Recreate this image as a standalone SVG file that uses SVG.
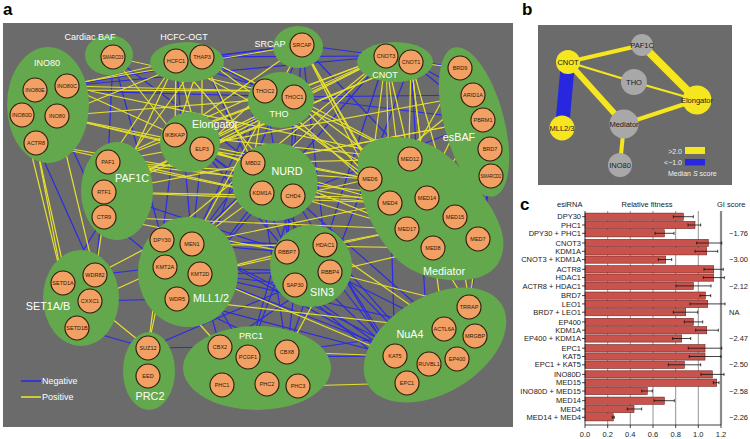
<svg xmlns="http://www.w3.org/2000/svg" width="750" height="439" viewBox="0 0 750 439">
<style>
text{font-family:"Liberation Sans",Arial,sans-serif}
.bg{fill:#6b6b6b}
.cx{fill:#63a84c}
.nd{fill:#f2a064;stroke:#2e1c0c;stroke-width:1.1}
.nt{font-size:5.5px;fill:#2b1a0a;text-anchor:middle}
.gl{fill:#fff;text-anchor:middle}
.s{font-size:9px}
.l{font-size:10.8px}
.neg line{stroke:#2b2be6;stroke-width:1.2}
.pos line{stroke:#e6e12e;stroke-width:1.2}
.pl{font-weight:bold;font-size:17px;fill:#000}
.bn{stroke:none}
.bt{font-size:7.5px;fill:#1a1a1a;text-anchor:middle}
.lg{font-size:7px;fill:#f0f0f0}
.ct{font-size:7.5px;fill:#1a1a1a}
.yl{text-anchor:end}
.bar{fill:#c9534c;stroke:#6e2420;stroke-width:0.6}
.grid{stroke:#4a4a4a;stroke-width:0.6}
.err{stroke:#111;stroke-width:0.8;fill:none}
</style>

<text class="pl" x="3" y="15">a</text>
<rect class="bg" x="3" y="23" width="510" height="404"/>

<g id="connectors">
<g class="neg">
<line x1="202" y1="57" x2="302" y2="45"/><line x1="176" y1="61" x2="302" y2="45"/>
<line x1="202" y1="57" x2="265" y2="91"/><line x1="176" y1="61" x2="294" y2="97"/>
<line x1="202" y1="57" x2="386" y2="56"/><line x1="113" y1="57" x2="294" y2="97"/>
<line x1="113" y1="57" x2="108" y2="162"/><line x1="113" y1="57" x2="162" y2="240"/>
<line x1="113" y1="57" x2="253" y2="163"/><line x1="202" y1="57" x2="262" y2="193"/>
<line x1="176" y1="61" x2="192" y2="244"/><line x1="67" y1="86" x2="386" y2="56"/>
<line x1="67" y1="86" x2="302" y2="45"/><line x1="35" y1="90" x2="294" y2="97"/>
<line x1="302" y1="45" x2="253" y2="163"/><line x1="302" y1="45" x2="287" y2="252"/>
<line x1="302" y1="45" x2="325" y2="245"/><line x1="302" y1="45" x2="386" y2="56"/>
<line x1="302" y1="45" x2="410" y2="159"/><line x1="294" y1="97" x2="386" y2="56"/>
<line x1="294" y1="97" x2="287" y2="252"/><line x1="265" y1="91" x2="295" y2="285"/>
<line x1="265" y1="91" x2="192" y2="244"/><line x1="265" y1="91" x2="200" y2="274"/>
<line x1="294" y1="97" x2="473" y2="95"/><line x1="294" y1="97" x2="483" y2="120"/>
<line x1="411" y1="62" x2="473" y2="95"/><line x1="386" y1="56" x2="460" y2="68"/>
<line x1="411" y1="62" x2="483" y2="120"/><line x1="386" y1="56" x2="165" y2="267"/>
<line x1="386" y1="56" x2="200" y2="274"/><line x1="386" y1="56" x2="325" y2="245"/>
<line x1="411" y1="62" x2="330" y2="272"/><line x1="386" y1="56" x2="395" y2="356"/>
<line x1="411" y1="62" x2="429" y2="364"/><line x1="175" y1="135" x2="162" y2="240"/>
<line x1="202" y1="149" x2="192" y2="244"/><line x1="202" y1="149" x2="287" y2="252"/>
<line x1="202" y1="149" x2="325" y2="245"/><line x1="202" y1="149" x2="262" y2="193"/>
<line x1="104" y1="217" x2="63" y2="283"/><line x1="104" y1="192" x2="95" y2="275"/>
<line x1="104" y1="217" x2="165" y2="267"/><line x1="104" y1="192" x2="287" y2="252"/>
<line x1="262" y1="193" x2="287" y2="252"/><line x1="293" y1="196" x2="295" y2="285"/>
<line x1="262" y1="193" x2="200" y2="274"/><line x1="253" y1="163" x2="192" y2="244"/>
<line x1="262" y1="193" x2="287" y2="352"/><line x1="293" y1="196" x2="248" y2="357"/>
<line x1="293" y1="196" x2="395" y2="356"/><line x1="293" y1="196" x2="444" y2="329"/>
<line x1="200" y1="274" x2="295" y2="285"/><line x1="192" y1="244" x2="287" y2="252"/>
<line x1="200" y1="274" x2="248" y2="357"/><line x1="177" y1="299" x2="287" y2="352"/>
<line x1="200" y1="274" x2="220" y2="347"/><line x1="200" y1="274" x2="429" y2="364"/>
<line x1="192" y1="244" x2="429" y2="364"/><line x1="177" y1="299" x2="395" y2="356"/>
<line x1="165" y1="267" x2="95" y2="275"/><line x1="177" y1="299" x2="90" y2="301"/>
<line x1="77" y1="328" x2="148" y2="348"/><line x1="148" y1="348" x2="220" y2="347"/>
<line x1="148" y1="348" x2="295" y2="285"/><line x1="330" y1="272" x2="395" y2="356"/>
<line x1="295" y1="285" x2="395" y2="356"/><line x1="330" y1="272" x2="444" y2="329"/>
<line x1="325" y1="245" x2="429" y2="364"/><line x1="295" y1="285" x2="407" y2="383"/>
<line x1="295" y1="285" x2="287" y2="352"/><line x1="287" y1="252" x2="248" y2="357"/>
<line x1="287" y1="352" x2="444" y2="329"/><line x1="248" y1="357" x2="395" y2="356"/>
<line x1="200" y1="274" x2="330" y2="272"/><line x1="200" y1="274" x2="444" y2="329"/>
<line x1="478" y1="239" x2="491" y2="176"/><line x1="455" y1="217" x2="490" y2="149"/>
<line x1="491" y1="176" x2="469" y2="307"/><line x1="483" y1="120" x2="293" y2="196"/>
<line x1="57" y1="116" x2="104" y2="217"/><line x1="36" y1="143" x2="95" y2="275"/>
<line x1="287" y1="252" x2="395" y2="356"/><line x1="192" y1="244" x2="395" y2="356"/>
<line x1="325" y1="245" x2="407" y2="383"/><line x1="262" y1="193" x2="429" y2="364"/>
<line x1="165" y1="267" x2="330" y2="272"/><line x1="162" y1="240" x2="325" y2="245"/>
<line x1="287" y1="352" x2="325" y2="245"/><line x1="220" y1="347" x2="330" y2="272"/>
</g>
<g class="pos">
<line x1="176" y1="61" x2="175" y2="135"/><line x1="176" y1="61" x2="202" y2="149"/>
<line x1="202" y1="57" x2="175" y2="135"/><line x1="202" y1="57" x2="202" y2="149"/>
<line x1="176" y1="61" x2="108" y2="162"/><line x1="202" y1="57" x2="104" y2="192"/>
<line x1="176" y1="61" x2="104" y2="217"/><line x1="202" y1="57" x2="253" y2="163"/>
<line x1="176" y1="61" x2="293" y2="196"/><line x1="202" y1="57" x2="370" y2="179"/>
<line x1="176" y1="61" x2="427" y2="198"/><line x1="202" y1="57" x2="410" y2="159"/>
<line x1="67" y1="86" x2="176" y2="61"/><line x1="57" y1="116" x2="202" y2="57"/>
<line x1="67" y1="86" x2="265" y2="91"/><line x1="57" y1="116" x2="294" y2="97"/>
<line x1="35" y1="90" x2="265" y2="91"/><line x1="35" y1="90" x2="302" y2="45"/>
<line x1="57" y1="116" x2="370" y2="179"/><line x1="67" y1="86" x2="410" y2="159"/>
<line x1="36" y1="143" x2="390" y2="203"/><line x1="57" y1="116" x2="253" y2="163"/>
<line x1="36" y1="143" x2="262" y2="193"/><line x1="36" y1="143" x2="63" y2="283"/>
<line x1="57" y1="116" x2="95" y2="275"/><line x1="22" y1="115" x2="63" y2="283"/>
<line x1="36" y1="143" x2="77" y2="328"/><line x1="67" y1="86" x2="175" y2="135"/>
<line x1="57" y1="116" x2="202" y2="149"/><line x1="113" y1="57" x2="175" y2="135"/>
<line x1="113" y1="57" x2="265" y2="91"/><line x1="386" y1="56" x2="410" y2="159"/>
<line x1="386" y1="56" x2="370" y2="179"/><line x1="386" y1="56" x2="390" y2="203"/>
<line x1="411" y1="62" x2="427" y2="198"/><line x1="411" y1="62" x2="407" y2="229"/>
<line x1="411" y1="62" x2="433" y2="248"/><line x1="386" y1="56" x2="407" y2="229"/>
<line x1="411" y1="62" x2="455" y2="217"/><line x1="386" y1="56" x2="108" y2="162"/>
<line x1="411" y1="62" x2="104" y2="192"/><line x1="386" y1="56" x2="104" y2="192"/>
<line x1="386" y1="56" x2="175" y2="135"/><line x1="411" y1="62" x2="202" y2="149"/>
<line x1="386" y1="56" x2="202" y2="149"/><line x1="386" y1="56" x2="294" y2="97"/>
<line x1="411" y1="62" x2="460" y2="68"/><line x1="386" y1="56" x2="162" y2="240"/>
<line x1="386" y1="56" x2="192" y2="244"/><line x1="302" y1="45" x2="370" y2="179"/>
<line x1="302" y1="45" x2="390" y2="203"/><line x1="302" y1="45" x2="407" y2="229"/>
<line x1="302" y1="45" x2="175" y2="135"/><line x1="302" y1="45" x2="192" y2="244"/>
<line x1="294" y1="97" x2="370" y2="179"/><line x1="294" y1="97" x2="427" y2="198"/>
<line x1="265" y1="91" x2="390" y2="203"/><line x1="265" y1="91" x2="253" y2="163"/>
<line x1="265" y1="91" x2="202" y2="149"/><line x1="265" y1="91" x2="108" y2="162"/>
<line x1="294" y1="97" x2="104" y2="192"/><line x1="460" y1="68" x2="410" y2="159"/>
<line x1="473" y1="95" x2="370" y2="179"/><line x1="483" y1="120" x2="427" y2="198"/>
<line x1="473" y1="95" x2="407" y2="229"/><line x1="473" y1="95" x2="108" y2="162"/>
<line x1="483" y1="120" x2="104" y2="192"/><line x1="483" y1="120" x2="253" y2="163"/>
<line x1="202" y1="149" x2="370" y2="179"/><line x1="202" y1="149" x2="390" y2="203"/>
<line x1="175" y1="135" x2="407" y2="229"/><line x1="202" y1="149" x2="253" y2="163"/>
<line x1="108" y1="162" x2="370" y2="179"/><line x1="104" y1="192" x2="390" y2="203"/>
<line x1="108" y1="162" x2="427" y2="198"/><line x1="104" y1="217" x2="407" y2="229"/>
<line x1="108" y1="162" x2="262" y2="193"/><line x1="104" y1="192" x2="293" y2="196"/>
<line x1="104" y1="217" x2="287" y2="252"/><line x1="104" y1="217" x2="95" y2="275"/>
<line x1="293" y1="196" x2="370" y2="179"/><line x1="262" y1="193" x2="390" y2="203"/>
<line x1="293" y1="196" x2="407" y2="229"/><line x1="262" y1="193" x2="192" y2="244"/>
<line x1="192" y1="244" x2="390" y2="203"/><line x1="200" y1="274" x2="407" y2="229"/>
<line x1="192" y1="244" x2="433" y2="248"/><line x1="200" y1="274" x2="287" y2="252"/>
<line x1="200" y1="274" x2="395" y2="356"/><line x1="177" y1="299" x2="444" y2="329"/>
<line x1="162" y1="240" x2="148" y2="348"/><line x1="165" y1="267" x2="148" y2="348"/>
<line x1="90" y1="301" x2="148" y2="348"/><line x1="95" y1="275" x2="162" y2="240"/>
<line x1="90" y1="301" x2="165" y2="267"/><line x1="330" y1="272" x2="469" y2="307"/>
<line x1="325" y1="245" x2="444" y2="329"/><line x1="325" y1="245" x2="407" y2="229"/>
<line x1="330" y1="272" x2="433" y2="248"/><line x1="298" y1="386" x2="407" y2="383"/>
<line x1="287" y1="352" x2="395" y2="356"/><line x1="287" y1="352" x2="330" y2="272"/>
<line x1="478" y1="239" x2="469" y2="307"/><line x1="433" y1="248" x2="469" y2="307"/>
<line x1="455" y1="217" x2="475" y2="336"/><line x1="433" y1="248" x2="444" y2="329"/>
<line x1="177" y1="299" x2="220" y2="347"/><line x1="253" y1="163" x2="410" y2="159"/>
<line x1="175" y1="135" x2="410" y2="159"/><line x1="293" y1="196" x2="427" y2="198"/>
<line x1="294" y1="97" x2="410" y2="159"/>
</g>
</g>

<g id="INO80">
<ellipse class="cx" cx="48" cy="105" rx="41" ry="58"/>
<text class="gl s" x="47" y="66">INO80</text>
<g id="n-INO80E"><circle class="nd" cx="35" cy="90" r="12"/><text class="nt" x="35" y="92">INO80E</text></g>
<g id="n-INO80C"><circle class="nd" cx="67" cy="86" r="12"/><text class="nt" x="67" y="88">INO80C</text></g>
<g id="n-INO80D"><circle class="nd" cx="22" cy="115" r="12"/><text class="nt" x="22" y="117">INO80D</text></g>
<g id="n-INO80"><circle class="nd" cx="57" cy="116" r="12"/><text class="nt" x="57" y="118">INO80</text></g>
<g id="n-ACTR8"><circle class="nd" cx="36" cy="143" r="12"/><text class="nt" x="36" y="145">ACTR8</text></g>
</g>

<g id="CardiacBAF">
<ellipse class="cx" cx="109" cy="55" rx="24" ry="20"/>
<text class="gl s" x="90" y="40">Cardiac BAF</text>
<g id="n-SMARCD3"><circle class="nd" cx="113" cy="57" r="12"/><text class="nt" x="113" y="59" textLength="21" lengthAdjust="spacingAndGlyphs">SMARCD3</text></g>
</g>

<g id="HCFC-OGT">
<ellipse class="cx" cx="187" cy="62" rx="37" ry="20"/>
<text class="gl s" x="184" y="40">HCFC-OGT</text>
<g id="n-HCFC1"><circle class="nd" cx="176" cy="61" r="12"/><text class="nt" x="176" y="63">HCFC1</text></g>
<g id="n-THAP3"><circle class="nd" cx="202" cy="57" r="12"/><text class="nt" x="202" y="59">THAP3</text></g>
</g>

<g id="SRCAP">
<ellipse class="cx" cx="298" cy="47" rx="25" ry="21"/>
<text class="gl s" x="270" y="47">SRCAP</text>
<g id="n-SRCAP"><circle class="nd" cx="302" cy="45" r="12"/><text class="nt" x="302" y="47">SRCAP</text></g>
</g>

<g id="CNOT">
<ellipse class="cx" cx="395" cy="62" rx="38" ry="20"/>
<text class="gl s" x="385" y="78">CNOT</text>
<g id="n-CNOT3"><circle class="nd" cx="386" cy="56" r="12"/><text class="nt" x="386" y="58">CNOT3</text></g>
<g id="n-CNOT1"><circle class="nd" cx="411" cy="62" r="12"/><text class="nt" x="411" y="64">CNOT1</text></g>
</g>

<g id="THO">
<ellipse class="cx" cx="281" cy="100" rx="33" ry="28"/>
<text class="gl s" x="279" y="117">THO</text>
<g id="n-THOC2"><circle class="nd" cx="265" cy="91" r="12"/><text class="nt" x="265" y="93">THOC2</text></g>
<g id="n-THOC1"><circle class="nd" cx="294" cy="97" r="12"/><text class="nt" x="294" y="99">THOC1</text></g>
</g>

<g id="esBAF">
<ellipse class="cx" cx="474" cy="122" rx="30" ry="77" transform="rotate(-15 474 122)"/>
<text class="gl l" x="459" y="141">esBAF</text>
<g id="n-BRD9"><circle class="nd" cx="460" cy="68" r="12"/><text class="nt" x="460" y="70">BRD9</text></g>
<g id="n-ARID1A"><circle class="nd" cx="473" cy="95" r="12"/><text class="nt" x="473" y="97">ARID1A</text></g>
<g id="n-PBRM1"><circle class="nd" cx="483" cy="120" r="12"/><text class="nt" x="483" y="122">PBRM1</text></g>
<g id="n-BRD7"><circle class="nd" cx="490" cy="149" r="12"/><text class="nt" x="490" y="151">BRD7</text></g>
<g id="n-SMARCD2"><circle class="nd" cx="491" cy="176" r="12"/><text class="nt" x="491" y="178" textLength="21" lengthAdjust="spacingAndGlyphs">SMARCD2</text></g>
</g>

<g id="Elongator">
<ellipse class="cx" cx="190" cy="142" rx="30" ry="30"/>
<text class="l" x="192" y="128" fill="#fff">Elongator</text>
<g id="n-IKBKAP"><circle class="nd" cx="175" cy="135" r="12"/><text class="nt" x="175" y="137">IKBKAP</text></g>
<g id="n-ELP3"><circle class="nd" cx="202" cy="149" r="12"/><text class="nt" x="202" y="151">ELP3</text></g>
</g>

<g id="PAF1C">
<ellipse class="cx" cx="117" cy="191" rx="36" ry="49"/>
<text class="gl l" x="132" y="182">PAF1C</text>
<g id="n-PAF1"><circle class="nd" cx="108" cy="162" r="12"/><text class="nt" x="108" y="164">PAF1</text></g>
<g id="n-RTF1"><circle class="nd" cx="104" cy="192" r="12"/><text class="nt" x="104" y="194">RTF1</text></g>
<g id="n-CTR9"><circle class="nd" cx="104" cy="217" r="12"/><text class="nt" x="104" y="219">CTR9</text></g>
</g>

<g id="NURD">
<ellipse class="cx" cx="275" cy="182" rx="43" ry="39"/>
<text class="gl l" x="287" y="175">NURD</text>
<g id="n-MBD2"><circle class="nd" cx="253" cy="163" r="12"/><text class="nt" x="253" y="165">MBD2</text></g>
<g id="n-KDM1A"><circle class="nd" cx="262" cy="193" r="12"/><text class="nt" x="262" y="195">KDM1A</text></g>
<g id="n-CHD4"><circle class="nd" cx="293" cy="196" r="12"/><text class="nt" x="293" y="198">CHD4</text></g>
</g>

<g id="Mediator">
<path class="cx" d="M358,163 C358,145 375,137 395,137 C415,137 440,145 460,168 C480,190 500,215 503,238 C506,262 492,278 465,280 C440,282 415,275 400,262 C385,248 370,225 363,200 C359,188 358,176 358,163 Z"/>
<text class="gl l" x="444" y="275">Mediator</text>
<g id="n-MED12"><circle class="nd" cx="410" cy="159" r="12"/><text class="nt" x="410" y="161">MED12</text></g>
<g id="n-MED6"><circle class="nd" cx="370" cy="179" r="12"/><text class="nt" x="370" y="181">MED6</text></g>
<g id="n-MED4"><circle class="nd" cx="390" cy="203" r="12"/><text class="nt" x="390" y="205">MED4</text></g>
<g id="n-MED14"><circle class="nd" cx="427" cy="198" r="12"/><text class="nt" x="427" y="200">MED14</text></g>
<g id="n-MED15"><circle class="nd" cx="455" cy="217" r="12"/><text class="nt" x="455" y="219">MED15</text></g>
<g id="n-MED17"><circle class="nd" cx="407" cy="229" r="12"/><text class="nt" x="407" y="231">MED17</text></g>
<g id="n-MED7"><circle class="nd" cx="478" cy="239" r="12"/><text class="nt" x="478" y="241">MED7</text></g>
<g id="n-MED8"><circle class="nd" cx="433" cy="248" r="12"/><text class="nt" x="433" y="250">MED8</text></g>
</g>

<g id="MLL1-2">
<ellipse class="cx" cx="188" cy="272" rx="50" ry="55"/>
<text class="l" x="193" y="302" fill="#fff">MLL1/2</text>
<g id="n-DPY30"><circle class="nd" cx="162" cy="240" r="12"/><text class="nt" x="162" y="242">DPY30</text></g>
<g id="n-MEN1"><circle class="nd" cx="192" cy="244" r="12"/><text class="nt" x="192" y="246">MEN1</text></g>
<g id="n-KMT2A"><circle class="nd" cx="165" cy="267" r="12"/><text class="nt" x="165" y="269">KMT2A</text></g>
<g id="n-KMT2D"><circle class="nd" cx="200" cy="274" r="12"/><text class="nt" x="200" y="276">KMT2D</text></g>
<g id="n-WDR5"><circle class="nd" cx="177" cy="299" r="12"/><text class="nt" x="177" y="301">WDR5</text></g>
</g>

<g id="SIN3">
<ellipse class="cx" cx="311" cy="266" rx="41" ry="41"/>
<text class="gl l" x="322" y="296">SIN3</text>
<g id="n-RBBP7"><circle class="nd" cx="287" cy="252" r="12"/><text class="nt" x="287" y="254">RBBP7</text></g>
<g id="n-HDAC1"><circle class="nd" cx="325" cy="245" r="12"/><text class="nt" x="325" y="247">HDAC1</text></g>
<g id="n-RBBP4"><circle class="nd" cx="330" cy="272" r="12"/><text class="nt" x="330" y="274">RBBP4</text></g>
<g id="n-SAP30"><circle class="nd" cx="295" cy="285" r="12"/><text class="nt" x="295" y="287">SAP30</text></g>
</g>

<g id="SET1A-B">
<ellipse class="cx" cx="81" cy="298" rx="38" ry="48"/>
<text class="gl l" x="48" y="310">SET1A/B</text>
<g id="n-SETD1A"><circle class="nd" cx="63" cy="283" r="12"/><text class="nt" x="63" y="285">SETD1A</text></g>
<g id="n-WDR82"><circle class="nd" cx="95" cy="275" r="12"/><text class="nt" x="95" y="277">WDR82</text></g>
<g id="n-CXXC1"><circle class="nd" cx="90" cy="301" r="12"/><text class="nt" x="90" y="303">CXXC1</text></g>
<g id="n-SETD1B"><circle class="nd" cx="77" cy="328" r="12"/><text class="nt" x="77" y="330">SETD1B</text></g>
</g>

<g id="PRC2">
<ellipse class="cx" cx="149" cy="371" rx="26" ry="39"/>
<text class="gl l" x="150" y="400">PRC2</text>
<g id="n-SUZ12"><circle class="nd" cx="148" cy="348" r="12"/><text class="nt" x="148" y="350">SUZ12</text></g>
<g id="n-EED"><circle class="nd" cx="148" cy="376" r="12"/><text class="nt" x="148" y="378">EED</text></g>
</g>

<g id="PRC1">
<ellipse class="cx" cx="257" cy="368" rx="74" ry="42"/>
<text class="gl s" x="251" y="339">PRC1</text>
<g id="n-CBX2"><circle class="nd" cx="220" cy="347" r="12"/><text class="nt" x="220" y="349">CBX2</text></g>
<g id="n-PCGF1"><circle class="nd" cx="248" cy="357" r="12"/><text class="nt" x="248" y="359">PCGF1</text></g>
<g id="n-CBX8"><circle class="nd" cx="287" cy="352" r="12"/><text class="nt" x="287" y="354">CBX8</text></g>
<g id="n-PHC1"><circle class="nd" cx="222" cy="385" r="12"/><text class="nt" x="222" y="387">PHC1</text></g>
<g id="n-PHC2"><circle class="nd" cx="267" cy="384" r="12"/><text class="nt" x="267" y="386">PHC2</text></g>
<g id="n-PHC3"><circle class="nd" cx="298" cy="386" r="12"/><text class="nt" x="298" y="388">PHC3</text></g>
</g>

<g id="NuA4">
<ellipse class="cx" cx="435" cy="345" rx="78" ry="48" transform="rotate(-31 435 345)"/>
<text class="gl l" x="410" y="338">NuA4</text>
<g id="n-TRRAP"><circle class="nd" cx="469" cy="307" r="12"/><text class="nt" x="469" y="309">TRRAP</text></g>
<g id="n-ACTL6A"><circle class="nd" cx="444" cy="329" r="12"/><text class="nt" x="444" y="331">ACTL6A</text></g>
<g id="n-MRGBP"><circle class="nd" cx="475" cy="336" r="12"/><text class="nt" x="475" y="338">MRGBP</text></g>
<g id="n-KAT5"><circle class="nd" cx="395" cy="356" r="12"/><text class="nt" x="395" y="358">KAT5</text></g>
<g id="n-RUVBL1"><circle class="nd" cx="429" cy="364" r="12"/><text class="nt" x="429" y="366">RUVBL1</text></g>
<g id="n-EP400"><circle class="nd" cx="457" cy="359" r="12"/><text class="nt" x="457" y="361">EP400</text></g>
<g id="n-EPC1"><circle class="nd" cx="407" cy="383" r="12"/><text class="nt" x="407" y="385">EPC1</text></g>
</g>

<g id="legend-a">
<line x1="21" y1="381" x2="41" y2="381" stroke="#2b2be6" stroke-width="1.6"/>
<text x="42" y="384" font-size="9" fill="#fff">Negative</text>
<line x1="21" y1="397" x2="41" y2="397" stroke="#e6e12e" stroke-width="1.6"/>
<text x="42" y="400" font-size="9" fill="#fff">Positive</text>
</g>

<!-- Panel b -->
<text class="pl" x="522" y="15">b</text>
<rect class="bg" x="538" y="25" width="194" height="160"/>
<g id="b-connectors" stroke-linecap="butt">
<line x1="568" y1="62" x2="562" y2="128" stroke="#2727e0" stroke-width="14"/>
<line x1="568" y1="62" x2="642" y2="45" stroke="#f5e61f" stroke-width="4"/>
<line x1="568" y1="62" x2="634" y2="82" stroke="#f5e61f" stroke-width="2.3"/>
<line x1="568" y1="62" x2="624" y2="124" stroke="#f5e61f" stroke-width="6"/>
<line x1="642" y1="45" x2="697" y2="100" stroke="#f5e61f" stroke-width="8"/>
<line x1="634" y1="82" x2="697" y2="100" stroke="#f5e61f" stroke-width="2.3"/>
<line x1="624" y1="124" x2="697" y2="100" stroke="#f5e61f" stroke-width="4"/>
<line x1="624" y1="124" x2="620" y2="165" stroke="#f5e61f" stroke-width="4"/>
</g>
<g id="b-CNOT"><circle cx="568" cy="62" r="12" fill="#f5e61f"/><text class="bt" x="568" y="64.7">CNOT</text></g>
<g id="b-PAF1C"><circle cx="642" cy="45" r="11" fill="#a8a8a8"/><text class="bt" x="642" y="47.7">PAF1C</text></g>
<g id="b-THO"><circle cx="634" cy="82" r="13" fill="#a8a8a8"/><text class="bt" x="634" y="84.7">THO</text></g>
<g id="b-Elongator"><circle cx="697" cy="100" r="14.5" fill="#f5e61f"/><text class="bt" x="697" y="102.7">Elongator</text></g>
<g id="b-MLL2-3"><circle cx="562" cy="128" r="12.5" fill="#f5e61f"/><text class="bt" x="562" y="130.7">MLL2/3</text></g>
<g id="b-Mediator"><circle cx="624" cy="124" r="14.5" fill="#a8a8a8"/><text class="bt" x="624" y="126.7">Mediator</text></g>
<g id="b-INO80"><circle cx="620" cy="165" r="12" fill="#a8a8a8"/><text class="bt" x="620" y="167.7">INO80</text></g>
<g id="b-legend">
<text class="lg" x="682" y="154" text-anchor="end">&gt;2.0</text>
<rect x="685" y="147" width="20" height="7" fill="#f5e61f"/>
<text class="lg" x="682" y="165" text-anchor="end">&lt;−1.0</text>
<rect x="685" y="159" width="20" height="6.5" fill="#2727e0"/>
<text class="lg" x="668" y="176">Median <tspan font-style="italic">S</tspan> score</text>
</g>

<!-- Panel c -->
<text class="pl" x="520" y="210">c</text>
<g id="c-headers" class="ct">
<text x="557" y="207">esiRNA</text>
<text x="647" y="207" text-anchor="middle">Relative fitness</text>
<text x="717" y="207">GI score</text>
</g>
<g id="c-grid">
<path class="grid" d="M607.7 211V425M630.3 211V425M653 211V425M675.7 211V425M698.3 211V425"/>
<line x1="721" y1="211" x2="721" y2="425" stroke="#8a8a8a" stroke-width="2.2"/>
</g>
<g id="c-bars">
<rect class="bar" x="585" y="213.1" width="98.3" height="7.2"/>
<rect class="bar" x="585" y="221.4" width="110" height="7.2"/>
<rect class="bar" x="585" y="229.7" width="79.3" height="7.2"/>
<rect class="bar" x="585" y="239.4" width="123.3" height="7.2"/>
<rect class="bar" x="585" y="247.7" width="121.7" height="7.2"/>
<rect class="bar" x="585" y="256.0" width="80.7" height="7.2"/>
<rect class="bar" x="585" y="265.7" width="128.7" height="7.2"/>
<rect class="bar" x="585" y="274.0" width="128.7" height="7.2"/>
<rect class="bar" x="585" y="282.3" width="108.3" height="7.2"/>
<rect class="bar" x="585" y="292.0" width="120.3" height="7.2"/>
<rect class="bar" x="585" y="300.3" width="122.7" height="7.2"/>
<rect class="bar" x="585" y="308.6" width="100.7" height="7.2"/>
<rect class="bar" x="585" y="318.3" width="108.3" height="7.2"/>
<rect class="bar" x="585" y="326.6" width="121.7" height="7.2"/>
<rect class="bar" x="585" y="334.9" width="96.7" height="7.2"/>
<rect class="bar" x="585" y="344.6" width="120" height="7.2"/>
<rect class="bar" x="585" y="352.9" width="120" height="7.2"/>
<rect class="bar" x="585" y="361.2" width="99.3" height="7.2"/>
<rect class="bar" x="585" y="370.8" width="127.3" height="7.2"/>
<rect class="bar" x="585" y="379.1" width="131.7" height="7.2"/>
<rect class="bar" x="585" y="387.4" width="62.3" height="7.2"/>
<rect class="bar" x="585" y="397.1" width="79.3" height="7.2"/>
<rect class="bar" x="585" y="405.4" width="49" height="7.2"/>
<rect class="bar" x="585" y="413.7" width="28.3" height="7.2"/>
</g>
<path class="err" d="M673.3 216.7H693.3M673.3 215.2v3M693.3 215.2v3M688 225H700.7M688 223.5v3M700.7 223.5v3M655 233.3H674M655 231.8v3M674 231.8v3M696.7 243H721.7M696.7 241.5v3M721.7 241.5v3M695 251.3H717.7M695 249.8v3M717.7 249.8v3M658.3 259.6H671.7M658.3 258.1v3M671.7 258.1v3M704 269.3H723.3M704 267.8v3M723.3 267.8v3M703.3 277.6H724.3M703.3 276.1v3M724.3 276.1v3M676 285.9H711M676 284.4v3M711 284.4v3M700 295.6H710.7M700 294.1v3M710.7 294.1v3M690 303.9H725M690 302.4v3M725 302.4v3M673.3 312.2H697.7M673.3 310.7v3M697.7 310.7v3M684.3 321.9H702.7M684.3 320.4v3M702.7 320.4v3M695.7 330.2H718.3M695.7 328.7v3M718.3 328.7v3M672.7 338.5H690.7M672.7 337v3M690.7 337v3M688.3 348.2H721.7M688.3 346.7v3M721.7 346.7v3M689.3 356.5H721M689.3 355v3M721 355v3M668.3 364.8H700.7M668.3 363.3v3M700.7 363.3v3M701 374.4H724M701 372.9v3M724 372.9v3M713.3 382.7H719M713.3 381.2v3M719 381.2v3M641.7 391H652.3M641.7 389.5v3M652.3 389.5v3M654 400.7H674.3M654 399.2v3M674.3 399.2v3M627.3 409H641.7M627.3 407.5v3M641.7 407.5v3M612.3 417.3H614.3M612.3 415.8v3M614.3 415.8v3"/>
<g id="c-axes" stroke="#111" stroke-width="0.8" fill="none">
<path d="M585 211V425H721"/>
<path d="M585 425v3M607.7 425v3M630.3 425v3M653 425v3M675.7 425v3M698.3 425v3M721 425v3"/>
<path d="M582 216.7h3M582 225h3M582 233.3h3M582 243h3M582 251.3h3M582 259.6h3M582 269.3h3M582 277.6h3M582 285.9h3M582 295.6h3M582 303.9h3M582 312.2h3M582 321.9h3M582 330.2h3M582 338.5h3M582 348.2h3M582 356.5h3M582 364.8h3M582 374.4h3M582 382.7h3M582 391h3M582 400.7h3M582 409h3M582 417.3h3"/>
</g>
<g id="c-ylabels" class="ct yl">
<text x="581" y="219.3">DPY30</text>
<text x="581" y="227.6">PHC1</text>
<text x="581" y="235.9">DPY30 + PHC1</text>
<text x="581" y="245.6">CNOT3</text>
<text x="581" y="253.9">KDM1A</text>
<text x="581" y="262.2">CNOT3 + KDM1A</text>
<text x="581" y="271.9">ACTR8</text>
<text x="581" y="280.2">HDAC1</text>
<text x="581" y="288.5">ACTR8 + HDAC1</text>
<text x="581" y="298.2">BRD7</text>
<text x="581" y="306.5">LEO1</text>
<text x="581" y="314.8">BRD7 + LEO1</text>
<text x="581" y="324.5">EP400</text>
<text x="581" y="332.8">KDM1A</text>
<text x="581" y="341.1">EP400 + KDM1A</text>
<text x="581" y="350.8">EPC1</text>
<text x="581" y="359.1">KAT5</text>
<text x="581" y="367.4">EPC1 + KAT5</text>
<text x="581" y="377">INO80D</text>
<text x="581" y="385.3">MED15</text>
<text x="581" y="393.6">INO80D + MED15</text>
<text x="581" y="403.3">MED14</text>
<text x="581" y="411.6">MED4</text>
<text x="581" y="419.9">MED14 + MED4</text>
</g>
<g id="c-gi" class="ct">
<text x="729" y="235.9">−1.76</text>
<text x="729" y="262.2">−3.00</text>
<text x="729" y="288.5">−2.12</text>
<text x="729" y="314.8">NA</text>
<text x="729" y="341.1">−2.47</text>
<text x="729" y="367.4">−2.50</text>
<text x="729" y="393.6">−2.58</text>
<text x="729" y="419.9">−2.26</text>
</g>
<g id="c-xlabels" class="ct" text-anchor="middle">
<text x="585" y="437">0.0</text>
<text x="607.7" y="437">0.2</text>
<text x="630.3" y="437">0.4</text>
<text x="653" y="437">0.6</text>
<text x="675.7" y="437">0.8</text>
<text x="698.3" y="437">1.0</text>
<text x="721" y="437">1.2</text>
</g>
</svg>
